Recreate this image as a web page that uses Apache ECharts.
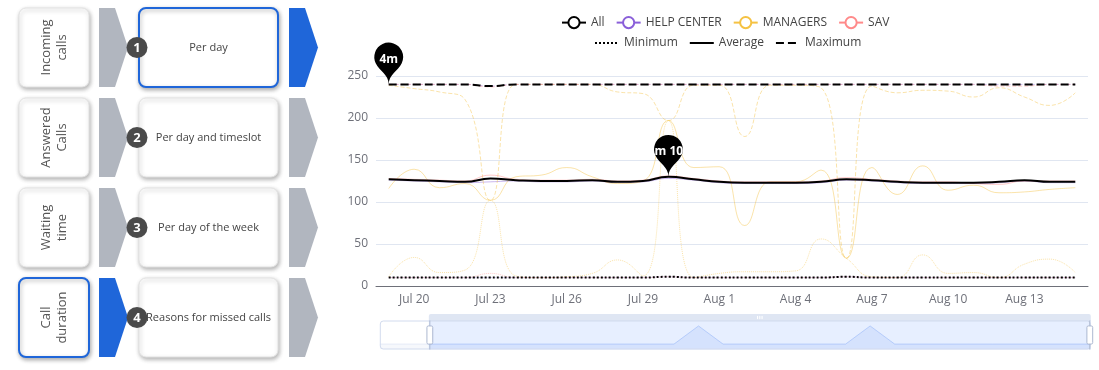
<!DOCTYPE html>
<html><head><meta charset="utf-8">
<script src="https://cdn.jsdelivr.net/npm/echarts@6/dist/echarts.min.js"></script>
<style>html,body{margin:0;padding:0;background:#fff}#c{width:1099px;height:370px}</style>
</head><body><div id="c"></div>
<script>
// ---- data ----
const dates = ['Jul 17','Jul 18','Jul 19','Jul 20','Jul 21','Jul 22','Jul 23','Jul 24','Jul 25','Jul 26','Jul 27','Jul 28','Jul 29','Jul 30','Jul 31','Aug 1','Aug 2','Aug 3','Aug 4','Aug 5','Aug 6','Aug 7','Aug 8','Aug 9','Aug 10','Aug 11','Aug 12','Aug 13','Aug 14','Aug 15'];
const groups = ['All','HELP CENTER','MANAGERS','SAV'];
const kinds = ['Minimum','Average','Maximum'];
const allMin = [10,10,10,10,10,10,10,10,10,10, 10,10,10,11,10,10,10,10,10,10, 11,10,10,10,10,10,10,10,10,10];
const allAvg = [125,126,127,126,125,124,128,126,125,125, 126,124,125,130,127,124,123,123,123,124, 127,126,124,123,123,123,124,126,124,124];
const allMax = [238,238,240,240,240,240,238,240,240,240, 240,240,240,240,240,240,240,240,240,240, 240,240,240,240,240,240,240,240,240,240];
const hcMin = [10,10,10,10,10,10,10,10,10,10, 10,10,10,11,10,10,10,10,10,10, 11,10,10,10,10,10,10,10,10,10];
const hcAvg = [124,125,126,125,124,123,124,125,124,124, 125,123,124,128,126,123,122,122,122,123, 126,125,123,122,122,122,123,125,123,123];
const hcMax = [238,238,240,240,240,240,238,240,240,240, 240,240,240,240,240,240,240,240,240,240, 240,240,240,240,240,240,240,240,240,240];
const manMin = [12,11,11,34,16,19,102,12,10,11, 15,31,12,197,10,15,17,17,18,56, 33,11,10,37,15,16,10,26,32,16];
const manAvg = [120,118,116,139,117,122,102,130,132,141, 130,122,125,197,141,142,72,124,124,138, 33,141,109,143,114,120,111,112,115,117];
const manMax = [235,238,239,235,231,222,102,240,240,240, 240,231,229,197,239,239,178,239,239,236, 33,238,230,233,232,225,236,225,215,230];
const savMin = [10,10,10,10,10,10,15,10,10,10, 10,10,10,11,10,10,10,10,10,10, 11,10,10,10,10,10,10,10,10,10];
const savAvg = [126,127,128,127,126,125,132,127,126,126, 127,125,126,131,128,125,124,124,124,125, 129,127,125,124,124,122,121,125,125,125];
const savMax = [236,237,240,240,240,240,237,240,240,240, 240,240,240,240,240,240,240,240,240,240, 240,240,240,240,240,240,238,238,240,240];
const yTicks = [0,50,100,150,200,250];
// left panel texts
const leftLabels = ['Incoming\ncalls','Answered\nCalls','Waiting\ntime','Call\nduration'];
const midLabels = ['Per day','Per day and timeslot','Per day of the week','Reasons for missed calls'];
const selLeft = [false,false,false,true];
const selMid = [true,false,false,false];

// ---- styles ----
const FONT = 'Open Sans';
const colors = {'All':'#000000','HELP CENTER':'#8a5fd9','MANAGERS':'#f5c243','SAV':'#ff8a8a'};
const lineTypes = {'Minimum':'dotted','Average':'solid','Maximum':'dashed'};
const BLUE = '#1f66d9', GRAY = '#b1b6bf';

function fmtDur(p){
  const v = Math.round(p.value); const m = Math.floor(v/60), s = v%60;
  return s ? (m + 'm ' + s + 's') : (m + 'm');
}

const dataMap = {
  'All':[allMin,allAvg,allMax],
  'HELP CENTER':[hcMin,hcAvg,hcMax],
  'MANAGERS':[manMin,manAvg,manMax],
  'SAV':[savMin,savAvg,savMax]
};

const series = [];
groups.forEach(function(g){
  kinds.forEach(function(k, ki){
    const isAll = g === 'All';
    const s = {
      type:'line', name:g, data:dataMap[g][ki], smooth:true, showSymbol:false,
      symbol:'emptyCircle', color:colors[g], z: isAll ? 4 : 2,
      lineStyle:{color:colors[g], type:lineTypes[k], width: isAll ? 2 : 1, opacity: isAll ? 1 : 0.45},
      emphasis:{disabled:true}
    };
    if (isAll && k !== 'Minimum') {
      s.markPoint = {
        symbol:'pin', symbolSize:48, data:[{type:'max'}],
        itemStyle:{color:'#000'},
        label:{color:'#fff', fontSize:12, fontWeight:'bold', fontFamily:FONT, formatter:fmtDur}
      };
    }
    series.push(s);
  });
});
kinds.forEach(function(k){
  series.push({type:'line', name:k, data:[], symbol:'none', color:'#000',
    lineStyle:{color:'#000', type:lineTypes[k], width:2}});
});

// ---- left panel graphics ----
const graphics = [];
const cardShadow = {shadowBlur:4, shadowOffsetX:1, shadowOffsetY:2, shadowColor:'rgba(0,0,0,0.3)'};
leftLabels.forEach(function(lbl, i){
  const top = 8 + 90*i, h = 79, mid = top + h/2;
  graphics.push({type:'rect', shape:{x:19, y:top, width:70, height:h, r:7},
    style:Object.assign({fill:'#fff', stroke: selLeft[i] ? BLUE : '#e3e3e3', lineWidth: selLeft[i] ? 2 : 1}, cardShadow), z:1});
  graphics.push({type:'text', x:54.5, y:mid, rotation:Math.PI/2, z:2,
    style:{text:lbl, align:'center', verticalAlign:'middle', fontSize:13, lineHeight:16, fill:'#555', fontFamily:FONT}});
  graphics.push({type:'polygon', shape:{points:[[99,top],[115,top],[128,mid],[115,top+h],[99,top+h]]},
    style:{fill: selLeft[i] ? BLUE : GRAY}, z:1});
  graphics.push({type:'rect', shape:{x:139, y:top, width:139, height:h, r:7},
    style:Object.assign({fill:'#fff', stroke: selMid[i] ? BLUE : '#e3e3e3', lineWidth: selMid[i] ? 2 : 1}, cardShadow), z:1});
  graphics.push({type:'text', x:208.5, y:mid, z:2,
    style:{text:midLabels[i], align:'center', verticalAlign:'middle', fontSize:11, fill:'#444', fontFamily:FONT}});
  graphics.push({type:'circle', shape:{cx:137, cy:mid, r:10.5}, style:{fill:'#4a4a4a'}, z:3});
  graphics.push({type:'text', x:137, y:mid+0.5, z:4,
    style:{text:String(i+1), align:'center', verticalAlign:'middle', fontSize:13, fontWeight:'bold', fill:'#fff', fontFamily:FONT}});
  graphics.push({type:'polygon', shape:{points:[[289,top],[305,top],[318,mid],[305,top+h],[289,top+h]]},
    style:{fill: selMid[i] ? BLUE : GRAY}, z:1});
});

const chart = echarts.init(document.getElementById('c'), null, {renderer:'canvas'});
chart.setOption({
  animation:false,
  backgroundColor:'#fff',
  textStyle:{fontFamily:FONT},
  graphic:graphics,
  legend:[
    {data:groups, left:556, top:11, itemWidth:24, itemHeight:14, itemGap:11,
     textStyle:{fontSize:12, color:'#444', fontFamily:FONT},
     lineStyle:{type:'solid', width:2, opacity:1}, itemStyle:{opacity:1}},
    {data:kinds, left:589, top:32, itemWidth:24, itemHeight:14, itemGap:11,
     textStyle:{fontSize:12, color:'#444', fontFamily:FONT},
     itemStyle:{color:'rgba(0,0,0,0)', borderColor:'rgba(0,0,0,0)', borderWidth:0},
     lineStyle:{width:2, opacity:1}}
  ],
  grid:{left:376, right:11, top:76, bottom:84},
  xAxis:{type:'category', data:dates, boundaryGap:true,
    axisLine:{lineStyle:{color:'#6e7079'}},
    axisTick:{alignWithLabel:true, interval:2, lineStyle:{color:'#6e7079'}},
    axisLabel:{interval:2, color:'#6e7079', fontSize:12, margin:8, fontFamily:FONT},
    splitLine:{show:false}},
  yAxis:{type:'value', min:yTicks[0], max:yTicks[yTicks.length-1], interval:yTicks[1]-yTicks[0],
    axisLine:{show:false}, axisTick:{show:false},
    axisLabel:{color:'#6e7079', fontSize:12, margin:8, fontFamily:FONT},
    splitLine:{lineStyle:{color:'#e0e6f1', width:1}}},
  dataZoom:[{
    type:'slider', xAxisIndex:0, startValue:2, endValue:dates.length-1,
    left:377, right:11, top:314, height:29,
    backgroundColor:'rgba(47,69,84,0)', borderColor:'#d2dbee', borderRadius:3,
    fillerColor:'rgba(135,175,274,0.2)',
    dataBackground:{lineStyle:{color:'#d2dbee', width:0.5}, areaStyle:{color:'#d2dbee', opacity:0.2}},
    selectedDataBackground:{lineStyle:{color:'#8fb0f7', width:0.5}, areaStyle:{color:'#8fb0f7', opacity:0.2}},
    handleIcon:'path://M-9.35,34.56V42m0-40V9.5m-2,0h4a2,2,0,0,1,2,2v21a2,2,0,0,1-2,2h-4a2,2,0,0,1-2-2v-21A2,2,0,0,1-11.35,9.5Z',
    handleSize:'100%', handleStyle:{color:'#fff', borderColor:'#acb8d1'},
    moveHandleSize:7, moveHandleStyle:{color:'#d2dbee', opacity:0.7},
    showDetail:false, brushSelect:true
  }],
  series:series
});
</script></body></html>
